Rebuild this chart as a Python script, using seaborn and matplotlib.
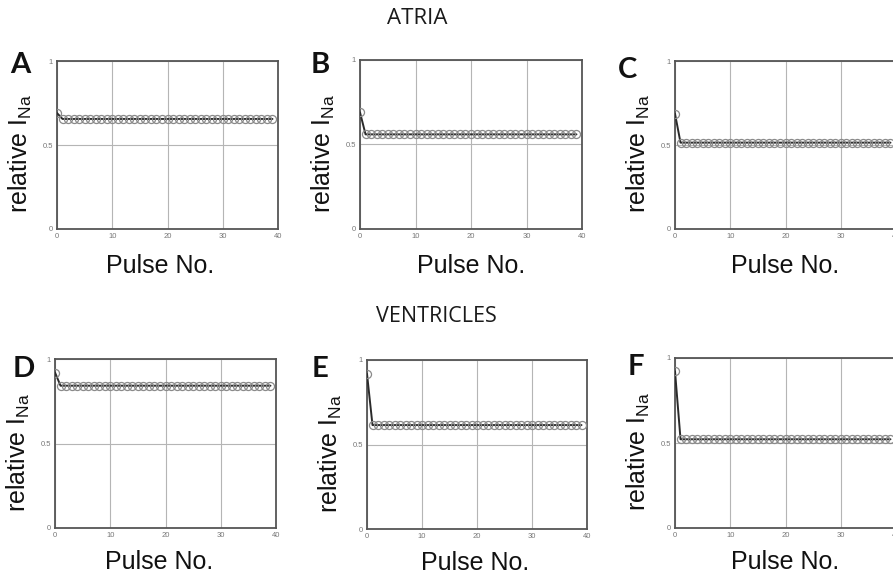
import matplotlib
matplotlib.use("Agg")
import matplotlib.pyplot as plt
import seaborn as sns
import pandas as pd

# ---------------- data ----------------
pulse = list(range(40))

atria_A = [0.690, 0.655, 0.655, 0.655, 0.655, 0.655, 0.655, 0.655, 0.655, 0.655,
           0.655, 0.655, 0.655, 0.655, 0.655, 0.655, 0.655, 0.655, 0.655, 0.655,
           0.655, 0.655, 0.655, 0.655, 0.655, 0.655, 0.655, 0.655, 0.655, 0.655,
           0.655, 0.655, 0.655, 0.655, 0.655, 0.655, 0.655, 0.655, 0.655, 0.655]
atria_B = [0.690, 0.560, 0.560, 0.560, 0.560, 0.560, 0.560, 0.560, 0.560, 0.560,
           0.560, 0.560, 0.560, 0.560, 0.560, 0.560, 0.560, 0.560, 0.560, 0.560,
           0.560, 0.560, 0.560, 0.560, 0.560, 0.560, 0.560, 0.560, 0.560, 0.560,
           0.560, 0.560, 0.560, 0.560, 0.560, 0.560, 0.560, 0.560, 0.560, 0.560]
atria_C = [0.686, 0.514, 0.514, 0.514, 0.514, 0.514, 0.514, 0.514, 0.514, 0.514,
           0.514, 0.514, 0.514, 0.514, 0.514, 0.514, 0.514, 0.514, 0.514, 0.514,
           0.514, 0.514, 0.514, 0.514, 0.514, 0.514, 0.514, 0.514, 0.514, 0.514,
           0.514, 0.514, 0.514, 0.514, 0.514, 0.514, 0.514, 0.514, 0.514, 0.514]
vent_D = [0.920, 0.842, 0.842, 0.842, 0.842, 0.842, 0.842, 0.842, 0.842, 0.842,
          0.842, 0.842, 0.842, 0.842, 0.842, 0.842, 0.842, 0.842, 0.842, 0.842,
          0.842, 0.842, 0.842, 0.842, 0.842, 0.842, 0.842, 0.842, 0.842, 0.842,
          0.842, 0.842, 0.842, 0.842, 0.842, 0.842, 0.842, 0.842, 0.842, 0.842]
vent_E = [0.918, 0.615, 0.615, 0.615, 0.615, 0.615, 0.615, 0.615, 0.615, 0.615,
          0.615, 0.615, 0.615, 0.615, 0.615, 0.615, 0.615, 0.615, 0.615, 0.615,
          0.615, 0.615, 0.615, 0.615, 0.615, 0.615, 0.615, 0.615, 0.615, 0.615,
          0.615, 0.615, 0.615, 0.615, 0.615, 0.615, 0.615, 0.615, 0.615, 0.615]
vent_F = [0.922, 0.522, 0.522, 0.522, 0.522, 0.522, 0.522, 0.522, 0.522, 0.522,
          0.522, 0.522, 0.522, 0.522, 0.522, 0.522, 0.522, 0.522, 0.522, 0.522,
          0.522, 0.522, 0.522, 0.522, 0.522, 0.522, 0.522, 0.522, 0.522, 0.522,
          0.522, 0.522, 0.522, 0.522, 0.522, 0.522, 0.522, 0.522, 0.522, 0.522]

panel_letters = ["A", "B", "C", "D", "E", "F"]
panel_series = [atria_A, atria_B, atria_C, vent_D, vent_E, vent_F]
x_ticks = [0, 10, 20, 30, 40]
x_ticklabels = ["0", "10", "20", "30", "40"]
y_ticks = [0, 0.5, 1]
y_ticklabels = ["0", "0.5", "1"]
x_label = "Pulse No."
y_label = "relative I$_{Na}$"
row_titles = ["ATRIA", "VENTRICLES"]

# ---------------- style ----------------
sns.set_style("white")
plt.rcParams["font.family"] = ["Liberation Sans", "DejaVu Sans"]
plt.rcParams["mathtext.default"] = "regular"

W, H = 893, 574
fig = plt.figure(figsize=(W / 100, H / 100), dpi=100)

# axes boxes in pixels: left, top, right, bottom
boxes = [(57, 61, 278, 229), (360, 60, 582, 229), (675, 61, 896, 229),
         (55, 359, 276, 528), (367, 360, 587, 529), (675, 358, 896, 528)]
letter_pos = [(10, 52), (311, 52), (618, 57), (13, 356), (312, 356), (628, 354)]
xlabel_x = [0.465, 0.5, 0.5, 0.47, 0.49, 0.5]
xlabel_pad = [10, 10, 10, 8, 8, 8]

for i, (letter, series, box, lp) in enumerate(zip(panel_letters, panel_series, boxes, letter_pos)):
    l, t, r, b = box
    ax = fig.add_axes([l / W, 1 - b / H, (r - l) / W, (b - t) / H])
    df = pd.DataFrame({"pulse": pulse, "value": series})
    sns.lineplot(data=df, x="pulse", y="value", ax=ax, color="#2a2a2a",
                 linewidth=1.4, marker="o", markersize=5.8,
                 markerfacecolor="none", markeredgecolor="#8a8a8a",
                 markeredgewidth=0.9, zorder=3)
    ax.set_xlim(0, 40)
    ax.set_ylim(0, 1)
    ax.set_xticks(x_ticks)
    ax.set_xticklabels(x_ticklabels)
    ax.set_yticks(y_ticks)
    ax.set_yticklabels(y_ticklabels)
    ax.tick_params(axis="both", length=0, labelsize=5.5, labelcolor="#777777", pad=3)
    ax.grid(True, color="#b5b5b5", linewidth=0.8)
    ax.set_axisbelow(True)
    for s in ax.spines.values():
        s.set_color("#555555")
        s.set_linewidth(1.3)
    ax.set_xlabel(x_label, fontsize=18, labelpad=xlabel_pad[i], color="#111111")
    ax.xaxis.label.set_x(xlabel_x[i])
    ax.set_ylabel(y_label, fontsize=18, labelpad=6, color="#111111")
    ax.yaxis.label.set_y(0.45)
    fig.text(lp[0] / W, 1 - lp[1] / H, letter, fontsize=21, fontweight="bold",
             family=["Lato", "DejaVu Sans"], ha="left", va="top", color="#111111")

fig.text(417 / W, 1 - 18 / H, row_titles[0], fontsize=16,
         family=["Open Sans", "DejaVu Sans"], ha="center", va="center", color="#1a1a1a")
fig.text(436 / W, 1 - 316 / H, row_titles[1], fontsize=15.5,
         family=["Open Sans", "DejaVu Sans"], ha="center", va="center", color="#1a1a1a")

fig.savefig("out.png", dpi=100)
